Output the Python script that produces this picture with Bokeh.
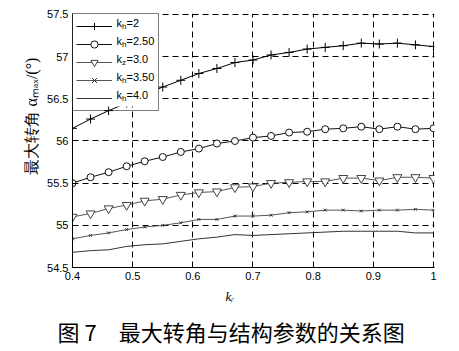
from bokeh.plotting import figure
from bokeh.models import (Range1d, FixedTicker, CustomJSTickFormatter, Legend,
                          LegendItem, Label, BoxAnnotation, Title)
from bokeh.embed import file_html
from bokeh.resources import INLINE

# ---------------- data ----------------
kr = [0.40, 0.43, 0.46, 0.49, 0.52, 0.55, 0.58, 0.61, 0.64, 0.67, 0.70,
      0.73, 0.76, 0.79, 0.82, 0.85, 0.88, 0.91, 0.94, 0.97, 1.00]
kh_2 = [56.15, 56.26, 56.36, 56.45, 56.55, 56.64, 56.72, 56.80, 56.86, 56.93, 56.96,
        57.02, 57.05, 57.09, 57.11, 57.13, 57.16, 57.15, 57.16, 57.14, 57.12]
kh_250 = [55.50, 55.57, 55.63, 55.70, 55.76, 55.81, 55.87, 55.91, 55.97, 56.00, 56.04,
          56.06, 56.10, 56.11, 56.14, 56.15, 56.17, 56.14, 56.17, 56.14, 56.15]
kz_30 = [55.10, 55.14, 55.20, 55.24, 55.29, 55.31, 55.36, 55.39, 55.40, 55.45, 55.46,
         55.50, 55.51, 55.52, 55.52, 55.56, 55.56, 55.53, 55.57, 55.57, 55.56]
kh_350 = [54.84, 54.88, 54.91, 54.95, 54.98, 55.00, 55.03, 55.07, 55.07, 55.11, 55.11,
          55.12, 55.15, 55.16, 55.18, 55.18, 55.17, 55.18, 55.18, 55.19, 55.18]
kh_40 = [54.68, 54.70, 54.71, 54.75, 54.77, 54.78, 54.81, 54.84, 54.86, 54.89, 54.88,
         54.89, 54.90, 54.91, 54.92, 54.93, 54.93, 54.93, 54.93, 54.91, 54.91]

x_ticks = [0.4, 0.5, 0.6, 0.7, 0.8, 0.9, 1.0]
y_ticks = [54.5, 55.0, 55.5, 56.0, 56.5, 57.0, 57.5]

legend_sub = ["h", "h", "z", "h", "h"]
legend_val = ["=2", "=2.50", "=3.0", "=3.50", "=4.0"]

x_label = "kᵣ"
y_label = "最大转角 αₘₐₓ/(°)"
caption = "图\u00a07\u3000最大转角与结构参数的关系图"

# ---------------- layout (canvas px) ----------------
W, H = 459, 351
FL, FR, FT, FB = 72, 434, 13, 270   # plot frame edges on the page
X0, X1 = 0.4, 1.0 + 0.6 / 360.0
Y0, Y1 = 54.5, 57.5 + 3.0 / 256.0


def put(fig, text, x, y, size, font="Liberation Sans", style="normal",
        align="left", baseline="middle", units="data"):
    fig.add_layout(Label(x=x, y=y, x_units=units, y_units=units, text=text,
                         text_font=font, text_font_size=f"{size}px",
                         text_font_style=style, text_align=align,
                         text_baseline=baseline, text_color="black"))


p = figure(width=W, height=H, output_backend="svg", toolbar_location=None,
           x_range=Range1d(X0, X1), y_range=Range1d(Y0, Y1),
           min_border_left=FL, min_border_right=W - FR,
           min_border_top=FT, min_border_bottom=H - FB)
p.outline_line_color = None
p.background_fill_color = "white"
p.border_fill_color = "white"

fmt = CustomJSTickFormatter(code="return String(Number(tick.toFixed(2)));")
for ax, ticks in ((p.xaxis[0], x_ticks), (p.yaxis[0], y_ticks)):
    ax.ticker = FixedTicker(ticks=ticks)
    ax.formatter = fmt
    ax.axis_line_color = "black"
    ax.axis_line_width = 1
    ax.major_tick_in = 4
    ax.major_tick_out = 0
    ax.major_tick_line_color = "black"
    ax.minor_tick_line_color = None
    ax.major_label_text_font = "Liberation Sans"
    ax.major_label_text_font_size = "11px"
    ax.major_label_text_color = "black"
    ax.major_label_standoff = 4

for g in (p.xgrid[0], p.ygrid[0]):
    g.grid_line_color = "black"
    g.grid_line_dash = "6 4"
    g.grid_line_width = 1

l1 = p.line(kr, kh_2, line_color="black", line_width=1)
m1 = p.scatter(kr, kh_2, marker="cross", size=9, line_color="black", line_width=1)
l2 = p.line(kr, kh_250, line_color="#111111", line_width=1)
m2 = p.scatter(kr, kh_250, marker="circle", size=7, fill_color="white",
               line_color="#111111", line_width=1)
l3 = p.line(kr, kz_30, line_color="#555555", line_width=1)
m3 = p.scatter(kr, kz_30, marker="inverted_triangle", size=9, fill_color="white",
               line_color="#444444", line_width=1)
l4 = p.line(kr, kh_350, line_color="#555555", line_width=1)
m4 = p.scatter(kr, kh_350, marker="x", size=4, line_color="#333333", line_width=1)
l5 = p.line(kr, kh_40, line_color="#333333", line_width=1)

# legend: white backing box, then texts, legend frame + glyphs on top
LEG_W, LEG_H = 86, 96
frame_h = FB - FT
p.add_layout(BoxAnnotation(left=0, right=LEG_W, top=frame_h, bottom=frame_h - LEG_H,
                           left_units="screen", right_units="screen",
                           top_units="screen", bottom_units="screen",
                           fill_color="white", fill_alpha=1, line_color=None))
for i, (s, v) in enumerate(zip(legend_sub, legend_val)):
    cy = FT + 3 + 9 + 18 * i
    put(p, "k", 116 - FL, FB - cy, 11, units="screen")
    put(p, s, 121.5 - FL, FB - cy - 3.5, 8, units="screen")
    put(p, v, 126 - FL, FB - cy, 11, units="screen")

groups = [[l1, m1], [l2, m2], [l3, m3], [l4, m4], [l5]]
items = [LegendItem(label="k" + s + v, renderers=r)
         for s, v, r in zip(legend_sub, legend_val, groups)]
legend = Legend(items=items, location="top_left", margin=0, padding=3, spacing=0,
                glyph_width=36, glyph_height=18, label_height=18, label_width=38,
                label_standoff=4, border_line_color="black", border_line_width=1,
                background_fill_alpha=0, label_text_alpha=0,
                label_text_font_size="11px")
p.add_layout(legend)

# y label: rotated title in the left panel, starting at page y ~177
p.add_layout(Title(text=y_label, align="left", offset=FB - 177,
                   text_font="Liberation Serif", text_font_size="16px",
                   text_font_style="normal", text_color="black", standoff=10), "left")

# x label and caption: titles stacked under the x axis, left aligned with offsets
p.add_layout(Title(text=x_label, align="left", offset=225 - FL,
                   text_font="Liberation Serif", text_font_size="13px",
                   text_font_style="italic", text_color="black", standoff=8), "below")
p.add_layout(Title(text=caption, align="left", offset=57 - FL,
                   text_font="Noto Sans CJK SC", text_font_size="22px",
                   text_font_style="normal", text_color="black", standoff=10), "below")

open("out.html", "w").write(file_html(p, INLINE))
